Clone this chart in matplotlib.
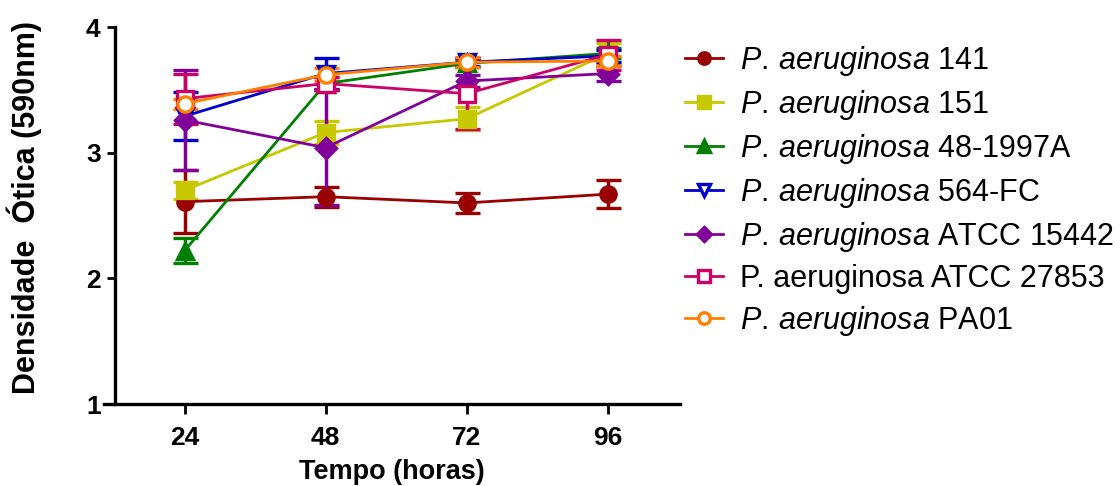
import numpy as np
import matplotlib.pyplot as plt

plt.rcParams['font.family'] = ['Liberation Sans', 'DejaVu Sans']
plt.rcParams['mathtext.fontset'] = 'custom'
plt.rcParams['mathtext.it'] = 'Liberation Sans:italic'
plt.rcParams['mathtext.rm'] = 'Liberation Sans'

# Dados (densidade ótica, média e erro)
tempo = [24, 48, 72, 96]
ital = r'$\mathit{P.\,aeruginosa}$'
nomes = [ital + ' 141',
         ital + ' 151',
         ital + ' 48-1997A',
         ital + ' 564-FC',
         ital + ' ATCC 15442',
         'P. aeruginosa ATCC 27853',
         ital + ' PA01']
pa141 = [2.61, 2.65, 2.60, 2.67]
pa141_err = [0.25, 0.08, 0.08, 0.11]
pa151 = [2.70, 3.16, 3.27, 3.79]
pa151_err = [0.07, 0.09, 0.09, 0.08]
pa48 = [2.22, 3.55, 3.71, 3.79]
pa48_err = [0.10, 0.05, 0.03, 0.04]
pa564 = [3.29, 3.63, 3.72, 3.77]
pa564_err = [0.19, 0.12, 0.03, 0.05]
pa15442 = [3.26, 3.04, 3.57, 3.63]
pa15442_err = [0.40, 0.46, 0.05, 0.06]
pa27853 = [3.43, 3.55, 3.47, 3.78]
pa27853_err = [0.20, 0.05, 0.28, 0.12]
pa01 = [3.39, 3.62, 3.72, 3.73]
pa01_err = [0.04, 0.05, 0.04, 0.04]

series = [pa141, pa151, pa48, pa564, pa15442, pa27853, pa01]
erros = [pa141_err, pa151_err, pa48_err, pa564_err, pa15442_err, pa27853_err, pa01_err]
cores = ['#990000', '#C8C800', '#008000', '#0000CC', '#800099', '#CC0066', '#FF8000']
marcadores = ['o', 's', '^', 'v', 'D', 's', 'o']
preenchido = [True, True, True, False, True, False, False]
tamanhos = [11, 11, 12, 12, 10, 12, 11]

fig = plt.figure(figsize=(11.2, 4.86), dpi=100)
ax = fig.add_axes([0.0929, 0.1687, 0.607 - 0.0929, 0.9444 - 0.1687])

handles = []
for y, e, c, m, f, ms in zip(series, erros, cores, marcadores, preenchido, tamanhos):
    cont = ax.errorbar(tempo, y, yerr=e, color=c, marker=m, markersize=ms,
                       markerfacecolor=c if f else 'white', markeredgecolor=c,
                       markeredgewidth=2.4, linewidth=2, elinewidth=2.5,
                       capsize=9, capthick=3)
    handles.append(cont[0])

ax.set_xlim(10.3, 108.3)
ax.set_ylim(1, 4)
ax.set_xticks(tempo)
ax.set_yticks([1, 2, 3, 4])
ax.spines['top'].set_visible(False)
ax.spines['right'].set_visible(False)
ax.spines['left'].set_position(('data', 12.1))
ax.spines['left'].set_linewidth(2.4)
ax.spines['bottom'].set_linewidth(2.4)
ax.tick_params(axis='both', width=2, labelsize=19, pad=4)
ax.tick_params(axis='x', length=7, pad=9)
ax.tick_params(axis='y', length=6)
for lab in ax.get_xticklabels() + ax.get_yticklabels():
    lab.set_fontweight('bold')

ax.set_xlabel('Tempo (horas)', fontsize=19.5, fontweight='bold', labelpad=6)
ax.set_ylabel('Densidade  Ótica (590nm)', fontsize=22, fontweight='bold')
ax.yaxis.set_label_coords(-0.108, 0.521)

fig.legend(handles, nomes, loc='upper left', bbox_to_anchor=(0.587, 0.967),
           frameon=False, fontsize=22, handlelength=1.25, handletextpad=0.55,
           labelspacing=0.33, markerscale=0.75)

fig.savefig('out.png', dpi=100)
